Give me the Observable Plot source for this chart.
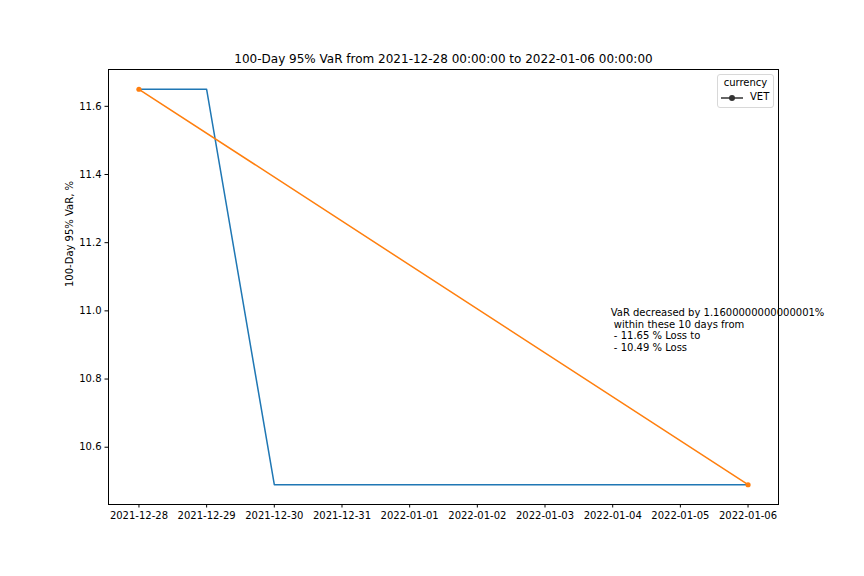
<!DOCTYPE html>
<html>
<head>
<meta charset="utf-8">
<script src="https://cdn.jsdelivr.net/npm/d3@7"></script>
<script src="https://cdn.jsdelivr.net/npm/@observablehq/plot@0.6"></script>
<style>
  html, body { margin: 0; padding: 0; background: #fff; }
  #wrap { position: relative; width: 864px; height: 576px; font-family: "DejaVu Sans", sans-serif; }
  #legend { position: absolute; left: 717px; top: 74px; width: 55px; height: 32px; border: 1px solid #d8d8d8; border-radius: 3px; background: rgba(255,255,255,0.8); font-size: 10px; color: #000; }
  #legend .t { position: absolute; top: 2px; left: 0; width: 100%; text-align: center; }
  #legend svg { position: absolute; left: 3px; top: 18px; }
  #legend .l { position: absolute; left: 32px; top: 16px; }
</style>
</head>
<body>
<div id="wrap"></div>
<script>
const dates = ["2021-12-28","2021-12-29","2021-12-30","2021-12-31","2022-01-01","2022-01-02","2022-01-03","2022-01-04","2022-01-05","2022-01-06"];
const varValues = [11.65, 11.65, 10.49, 10.49, 10.49, 10.49, 10.49, 10.49, 10.49, 10.49];
const trendDates = ["2021-12-28", "2022-01-06"];
const trendValues = [11.65, 10.49];
const yTicks = [10.6, 10.8, 11.0, 11.2, 11.4, 11.6];
const titleText = "100-Day 95% VaR from 2021-12-28 00:00:00 to 2022-01-06 00:00:00";
const yLabel = "100-Day 95% VaR, %";
const legendTitle = "currency";
const legendItem = "VET";
const noteText = "VaR decreased by 1.1600000000000001%\n within these 10 days from\n - 11.65 % Loss to\n - 10.49 % Loss";
const noteDate = "2022-01-04";
const noteValue = 11.0;

const parse = d3.utcParse("%Y-%m-%d");
const series = dates.map((d, i) => ({date: parse(d), value: varValues[i]}));
const trend = trendDates.map((d, i) => ({date: parse(d), value: trendValues[i]}));

const x0 = parse(dates[0]), x1 = parse(dates[dates.length - 1]);
const span = x1 - x0;
const xDomain = [new Date(+x0 - span * 0.05), new Date(+x1 + span * 0.05)];
const ymin = d3.min(varValues), ymax = d3.max(varValues), yr = ymax - ymin;
const yDomain = [ymin - yr * 0.05, ymax + yr * 0.05];

const chart = Plot.plot({
  width: 864,
  height: 576,
  marginLeft: 108,
  marginRight: 86,
  marginTop: 69,
  marginBottom: 72,
  style: {fontFamily: "DejaVu Sans, sans-serif", fontSize: "10px", color: "#000", background: "#fff", whiteSpace: "pre"},
  x: {type: "utc", domain: xDomain},
  y: {domain: yDomain},
  marks: [
    Plot.axisX({ticks: dates.map(parse), tickFormat: d3.utcFormat("%Y-%m-%d"), tickSize: 3.5, tickPadding: 3.5, fontSize: 10, label: null, stroke: "#000"}),
    Plot.axisY({ticks: yTicks, tickFormat: d3.format(".1f"), tickSize: 3.5, tickPadding: 3.5, fontSize: 10, label: null, stroke: "#000"}),
    Plot.lineY(series, {x: "date", y: "value", stroke: "#1f77b4", strokeWidth: 1.5}),
    Plot.lineY(trend, {x: "date", y: "value", stroke: "#ff7f0e", strokeWidth: 1.5}),
    Plot.dot(trend, {x: "date", y: "value", fill: "#ff7f0e", r: 2.6}),
    Plot.text([noteText], {x: () => parse(noteDate), y: () => noteValue, text: d => d, textAnchor: "start", lineAnchor: "top", fontSize: 10, fill: "#000", lineHeight: 1.15, dx: -2, dy: -3}),
    Plot.frame({stroke: "#000", strokeWidth: 1}),
    Plot.text([titleText], {frameAnchor: "top", dy: -15, text: d => d, fontSize: 12, fill: "#000"}),
    Plot.text([yLabel], {frameAnchor: "left", dx: -39, rotate: -90, text: d => d, fontSize: 10, fill: "#000"})
  ]
});

const wrap = document.getElementById("wrap");
wrap.appendChild(chart);
const lg = document.createElement("div");
lg.id = "legend";
lg.innerHTML = `<div class="t">${legendTitle}</div>
<svg width="28" height="10"><line x1="0" y1="5" x2="22" y2="5" stroke="#333" stroke-width="1.5"/><circle cx="11" cy="5" r="3" fill="#333"/></svg>
<div class="l">${legendItem}</div>`;
wrap.appendChild(lg);
</script>
</body>
</html>
